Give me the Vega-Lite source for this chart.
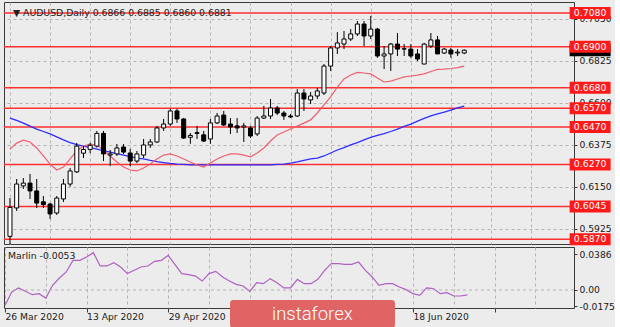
{
  "$schema": "https://vega.github.io/schema/vega-lite/v6.json",
  "background": "#ececec",
  "padding": {"left": 2, "top": 1, "right": 0, "bottom": 0},
  "spacing": 0,
  "config": {
    "view": {"stroke": "#3a3a3a", "strokeWidth": 1, "fill": "#ececec"},
    "font": "DejaVu Sans",
    "axis": {"labelFont": "DejaVu Sans", "labelFontSize": 9.2, "labelColor": "#1a1a1a", "tickColor": "#3a3a3a", "domain": false, "gridColor": "#b4b4b4", "gridDash": [3, 3], "gridWidth": 1, "title": null, "labelOverlap": false}
  },
  "datasets": {
    "k": [
      {"d":"2020-03-26","o":0.5885,"h":0.6090,"l":0.5820,"c":0.6040,"r":0.6352,"b":0.6518,"m":-0.0166},
      {"d":"2020-03-27","o":0.6037,"h":0.6192,"l":0.6021,"c":0.6165,"r":0.6384,"b":0.6505,"m":-0.0022},
      {"d":"2020-03-30","o":0.6155,"h":0.6197,"l":0.6139,"c":0.6170,"r":0.6400,"b":0.6491,"m":0.0022},
      {"d":"2020-03-31","o":0.6170,"h":0.6219,"l":0.6085,"c":0.6128,"r":0.6390,"b":0.6475,"m":-0.0014},
      {"d":"2020-04-01","o":0.6128,"h":0.6192,"l":0.6037,"c":0.6063,"r":0.6358,"b":0.6459,"m":-0.0051},
      {"d":"2020-04-02","o":0.6070,"h":0.6101,"l":0.6037,"c":0.6055,"r":0.6315,"b":0.6446,"m":-0.0040},
      {"d":"2020-04-03","o":0.6058,"h":0.6064,"l":0.5978,"c":0.6005,"r":0.6272,"b":0.6433,"m":-0.0087},
      {"d":"2020-04-06","o":0.6010,"h":0.6101,"l":0.6000,"c":0.6090,"r":0.6240,"b":0.6417,"m":0.0051},
      {"d":"2020-04-07","o":0.6085,"h":0.6192,"l":0.6069,"c":0.6165,"r":0.6256,"b":0.6401,"m":0.0130},
      {"d":"2020-04-08","o":0.6165,"h":0.6251,"l":0.6150,"c":0.6235,"r":0.6299,"b":0.6387,"m":0.0195},
      {"d":"2020-04-09","o":0.6230,"h":0.6385,"l":0.6224,"c":0.6368,"r":0.6342,"b":0.6376,"m":0.0321},
      {"d":"2020-04-10","o":0.6330,"h":0.6368,"l":0.6304,"c":0.6350,"r":0.6368,"b":0.6368,"m":0.0321},
      {"d":"2020-04-13","o":0.6350,"h":0.6385,"l":0.6330,"c":0.6372,"r":0.6379,"b":0.6360,"m":0.0357},
      {"d":"2020-04-14","o":0.6368,"h":0.6449,"l":0.6360,"c":0.6436,"r":0.6374,"b":0.6352,"m":0.0404},
      {"d":"2020-04-15","o":0.6436,"h":0.6449,"l":0.6288,"c":0.6326,"r":0.6347,"b":0.6344,"m":0.0260},
      {"d":"2020-04-16","o":0.6320,"h":0.6347,"l":0.6261,"c":0.6326,"r":0.6315,"b":0.6336,"m":0.0260},
      {"d":"2020-04-17","o":0.6326,"h":0.6379,"l":0.6315,"c":0.6358,"r":0.6283,"b":0.6328,"m":0.0296},
      {"d":"2020-04-20","o":0.6363,"h":0.6379,"l":0.6326,"c":0.6336,"r":0.6256,"b":0.6320,"m":0.0249},
      {"d":"2020-04-21","o":0.6331,"h":0.6353,"l":0.6261,"c":0.6288,"r":0.6240,"b":0.6312,"m":0.0177},
      {"d":"2020-04-22","o":0.6288,"h":0.6342,"l":0.6277,"c":0.6326,"r":0.6235,"b":0.6304,"m":0.0213},
      {"d":"2020-04-23","o":0.6320,"h":0.6406,"l":0.6304,"c":0.6374,"r":0.6251,"b":0.6299,"m":0.0249},
      {"d":"2020-04-24","o":0.6374,"h":0.6406,"l":0.6358,"c":0.6390,"r":0.6272,"b":0.6291,"m":0.0260},
      {"d":"2020-04-27","o":0.6390,"h":0.6476,"l":0.6385,"c":0.6465,"r":0.6299,"b":0.6285,"m":0.0310},
      {"d":"2020-04-28","o":0.6465,"h":0.6513,"l":0.6449,"c":0.6486,"r":0.6320,"b":0.6280,"m":0.0321},
      {"d":"2020-04-29","o":0.6486,"h":0.6567,"l":0.6476,"c":0.6556,"r":0.6326,"b":0.6275,"m":0.0375},
      {"d":"2020-04-30","o":0.6556,"h":0.6567,"l":0.6492,"c":0.6513,"r":0.6315,"b":0.6272,"m":0.0274},
      {"d":"2020-05-01","o":0.6513,"h":0.6518,"l":0.6406,"c":0.6411,"r":0.6299,"b":0.6270,"m":0.0177},
      {"d":"2020-05-04","o":0.6415,"h":0.6438,"l":0.6380,"c":0.6425,"r":0.6283,"b":0.6267,"m":0.0166},
      {"d":"2020-05-05","o":0.6440,"h":0.6476,"l":0.6406,"c":0.6436,"r":0.6267,"b":0.6267,"m":0.0151},
      {"d":"2020-05-06","o":0.6428,"h":0.6449,"l":0.6390,"c":0.6395,"r":0.6256,"b":0.6267,"m":0.0097},
      {"d":"2020-05-07","o":0.6406,"h":0.6513,"l":0.6380,"c":0.6492,"r":0.6277,"b":0.6267,"m":0.0177},
      {"d":"2020-05-08","o":0.6492,"h":0.6545,"l":0.6486,"c":0.6529,"r":0.6299,"b":0.6267,"m":0.0202},
      {"d":"2020-05-11","o":0.6534,"h":0.6556,"l":0.6476,"c":0.6481,"r":0.6315,"b":0.6267,"m":0.0141},
      {"d":"2020-05-12","o":0.6486,"h":0.6518,"l":0.6433,"c":0.6470,"r":0.6326,"b":0.6267,"m":0.0097},
      {"d":"2020-05-13","o":0.6476,"h":0.6518,"l":0.6438,"c":0.6465,"r":0.6326,"b":0.6267,"m":0.0061},
      {"d":"2020-05-14","o":0.6470,"h":0.6492,"l":0.6390,"c":0.6476,"r":0.6320,"b":0.6267,"m":0.0043},
      {"d":"2020-05-15","o":0.6465,"h":0.6476,"l":0.6411,"c":0.6422,"r":0.6310,"b":0.6267,"m":-0.0014},
      {"d":"2020-05-18","o":0.6433,"h":0.6529,"l":0.6422,"c":0.6518,"r":0.6331,"b":0.6267,"m":0.0079},
      {"d":"2020-05-19","o":0.6518,"h":0.6583,"l":0.6513,"c":0.6529,"r":0.6358,"b":0.6267,"m":0.0068},
      {"d":"2020-05-20","o":0.6529,"h":0.6620,"l":0.6513,"c":0.6572,"r":0.6395,"b":0.6267,"m":0.0123},
      {"d":"2020-05-21","o":0.6572,"h":0.6583,"l":0.6534,"c":0.6545,"r":0.6427,"b":0.6270,"m":0.0079},
      {"d":"2020-05-22","o":0.6545,"h":0.6556,"l":0.6508,"c":0.6529,"r":0.6443,"b":0.6272,"m":0.0022},
      {"d":"2020-05-25","o":0.6529,"h":0.6540,"l":0.6518,"c":0.6524,"r":0.6459,"b":0.6277,"m":0.0022},
      {"d":"2020-05-26","o":0.6529,"h":0.6673,"l":0.6524,"c":0.6652,"r":0.6475,"b":0.6283,"m":0.0115},
      {"d":"2020-05-27","o":0.6652,"h":0.6673,"l":0.6556,"c":0.6620,"r":0.6491,"b":0.6291,"m":0.0068},
      {"d":"2020-05-28","o":0.6615,"h":0.6657,"l":0.6593,"c":0.6636,"r":0.6508,"b":0.6299,"m":0.0068},
      {"d":"2020-05-29","o":0.6636,"h":0.6679,"l":0.6620,"c":0.6663,"r":0.6545,"b":0.6304,"m":0.0115},
      {"d":"2020-06-01","o":0.6652,"h":0.6807,"l":0.6641,"c":0.6796,"r":0.6588,"b":0.6315,"m":0.0213},
      {"d":"2020-06-02","o":0.6796,"h":0.6903,"l":0.6770,"c":0.6893,"r":0.6631,"b":0.6331,"m":0.0285},
      {"d":"2020-06-03","o":0.6893,"h":0.6978,"l":0.6861,"c":0.6920,"r":0.6684,"b":0.6347,"m":0.0285},
      {"d":"2020-06-04","o":0.6914,"h":0.6984,"l":0.6887,"c":0.6941,"r":0.6727,"b":0.6360,"m":0.0278},
      {"d":"2020-06-05","o":0.6941,"h":0.6994,"l":0.6930,"c":0.6968,"r":0.6748,"b":0.6374,"m":0.0278},
      {"d":"2020-06-08","o":0.6968,"h":0.7037,"l":0.6957,"c":0.7021,"r":0.6762,"b":0.6387,"m":0.0303},
      {"d":"2020-06-09","o":0.7021,"h":0.7037,"l":0.6903,"c":0.6957,"r":0.6759,"b":0.6401,"m":0.0213},
      {"d":"2020-06-10","o":0.6957,"h":0.7064,"l":0.6941,"c":0.6994,"r":0.6754,"b":0.6414,"m":0.0141},
      {"d":"2020-06-11","o":0.6994,"h":0.7000,"l":0.6840,"c":0.6850,"r":0.6732,"b":0.6425,"m":0.0051},
      {"d":"2020-06-12","o":0.6850,"h":0.6903,"l":0.6780,"c":0.6861,"r":0.6711,"b":0.6435,"m":0.0068},
      {"d":"2020-06-15","o":0.6861,"h":0.6920,"l":0.6770,"c":0.6914,"r":0.6716,"b":0.6446,"m":0.0068},
      {"d":"2020-06-16","o":0.6914,"h":0.6973,"l":0.6850,"c":0.6887,"r":0.6727,"b":0.6459,"m":0.0032},
      {"d":"2020-06-17","o":0.6887,"h":0.6914,"l":0.6850,"c":0.6889,"r":0.6738,"b":0.6473,"m":0.0004},
      {"d":"2020-06-18","o":0.6887,"h":0.6914,"l":0.6840,"c":0.6850,"r":0.6743,"b":0.6486,"m":-0.0040},
      {"d":"2020-06-19","o":0.6861,"h":0.6887,"l":0.6823,"c":0.6834,"r":0.6748,"b":0.6502,"m":-0.0058},
      {"d":"2020-06-22","o":0.6807,"h":0.6920,"l":0.6807,"c":0.6914,"r":0.6754,"b":0.6516,"m":0.0022},
      {"d":"2020-06-23","o":0.6903,"h":0.6973,"l":0.6893,"c":0.6936,"r":0.6767,"b":0.6529,"m":0.0015},
      {"d":"2020-06-24","o":0.6936,"h":0.6957,"l":0.6861,"c":0.6861,"r":0.6778,"b":0.6540,"m":-0.0040},
      {"d":"2020-06-25","o":0.6866,"h":0.6893,"l":0.6861,"c":0.6887,"r":0.6780,"b":0.6550,"m":-0.0029},
      {"d":"2020-06-26","o":0.6882,"h":0.6893,"l":0.6840,"c":0.6861,"r":0.6783,"b":0.6561,"m":-0.0065},
      {"d":"2020-06-29","o":0.6866,"h":0.6887,"l":0.6850,"c":0.6871,"r":0.6788,"b":0.6572,"m":-0.0065},
      {"d":"2020-06-30","o":0.6866,"h":0.6885,"l":0.6860,"c":0.6881,"r":0.6796,"b":0.6582,"m":-0.0053}
    ],
    "lv": [
      {"v":0.7080},{"v":0.6900},{"v":0.6680},{"v":0.6570},{"v":0.6470},{"v":0.6270},{"v":0.6045},{"v":0.5870}
    ]
  },
  "vconcat": [
    {
      "width": 570,
      "height": 242,
      "layer": [
        {
          "data": {"name": "lv"},
          "mark": {"type": "rule", "color": "#ff3030", "strokeWidth": 1.5},
          "encoding": {
            "y": {"field": "v", "type": "quantitative", "scale": {"domain": [0.58441, 0.71389], "nice": false, "zero": false},
                  "axis": {"orient": "right", "values": [0.5925, 0.615, 0.6375, 0.66, 0.6825, 0.705], "tickCount": 12, "format": ".4f", "grid": true, "tickSize": 3, "labelPadding": 2}}
          }
        },
        {
          "data": {"name": "k"},
          "transform": [{"window": [{"op": "row_number", "as": "n"}], "sort": [{"field": "d"}]}],
          "layer": [
            {
              "mark": {"type": "line", "color": "#2d2dff", "strokeWidth": 1.3, "clip": true},
              "encoding": {
                "x": {"field": "n", "type": "quantitative", "scale": {"domain": [0.853, 84.677], "nice": false, "zero": false},
                      "axis": {"values": [1,7,13,19,25,31,37,43,49,55,61,67,73,79], "tickCount": 20, "labels": false, "ticks": false, "domain": false, "grid": true}},
                "y": {"field": "b", "type": "quantitative"}
              }
            },
            {
              "mark": {"type": "line", "color": "#ee5f70", "strokeWidth": 1.2, "clip": true},
              "encoding": {"x": {"field": "n", "type": "quantitative"}, "y": {"field": "r", "type": "quantitative"}}
            },
            {
              "mark": {"type": "rule", "color": "#000000", "strokeWidth": 1, "clip": true},
              "encoding": {"x": {"field": "n", "type": "quantitative"}, "y": {"field": "l", "type": "quantitative"}, "y2": {"field": "h"}}
            },
            {
              "mark": {"type": "bar", "orient": "vertical", "size": 4, "stroke": "#000000", "strokeWidth": 1, "clip": true},
              "encoding": {
                "x": {"field": "n", "type": "quantitative"},
                "y": {"field": "o", "type": "quantitative"},
                "y2": {"field": "c"},
                "fill": {"condition": {"test": "datum.c >= datum.o", "value": "#ffffff"}, "value": "#000000"}
              }
            }
          ]
        },
        {
          "data": {"values": [{"t": "▼ AUDUSD,Daily  0.6866 0.6885 0.6860 0.6881"}]},
          "mark": {"type": "text", "align": "left", "baseline": "middle", "fontSize": 9.3, "color": "#222222", "font": "DejaVu Sans"},
          "encoding": {"x": {"datum": 1.441, "type": "quantitative"}, "y": {"datum": 0.7080, "type": "quantitative"}, "text": {"field": "t"}}
        },
        {
          "data": {"values": [{"v": 0.6881}]},
          "mark": {"type": "tick", "orient": "horizontal", "size": 41, "thickness": 12, "color": "#000000", "opacity": 1, "clip": false},
          "encoding": {"x": {"datum": 87.84, "type": "quantitative"}, "y": {"field": "v", "type": "quantitative"}}
        },
        {
          "data": {"name": "lv"},
          "mark": {"type": "tick", "orient": "horizontal", "size": 41, "thickness": 12, "color": "#ff1a1a", "opacity": 1, "clip": false},
          "encoding": {"x": {"datum": 87.84, "type": "quantitative"}, "y": {"field": "v", "type": "quantitative"}}
        },
        {
          "data": {"name": "lv"},
          "mark": {"type": "text", "align": "center", "baseline": "middle", "fontSize": 9.4, "color": "#ffffff", "font": "DejaVu Sans", "clip": false},
          "encoding": {"x": {"datum": 87.84, "type": "quantitative"}, "y": {"field": "v", "type": "quantitative"}, "text": {"field": "v", "type": "quantitative", "format": ".4f"}}
        }
      ]
    },
    {
      "width": 570,
      "height": 61,
      "layer": [
        {
          "data": {"name": "k"},
          "transform": [{"window": [{"op": "row_number", "as": "n"}], "sort": [{"field": "d"}]}],
          "mark": {"type": "line", "color": "#b060c4", "strokeWidth": 1.2, "clip": true},
          "encoding": {
            "x": {"field": "n", "type": "quantitative", "scale": {"domain": [0.853, 84.677], "nice": false, "zero": false},
                  "axis": {"values": [1,7,13,19,25,31,37,43,49,55,61,67,73,79], "tickCount": 20, "grid": true, "domain": false, "tickSize": 4, "labelAlign": "left", "labelFlush": false, "labelPadding": 0, "labelFontSize": 9.2,
                           "tickOpacity": {"condition": {"test": "(datum.value - 1) % 12 == 0", "value": 1}, "value": 0},
                           "labelExpr": "{'1':'26 Mar 2020','13':'13 Apr 2020','25':'29 Apr 2020','61':'18 Jun 2020'}['' + datum.value] || ''"}},
            "y": {"field": "m", "type": "quantitative", "scale": {"domain": [-0.01948, 0.04653], "nice": false, "zero": false},
                  "axis": {"orient": "right", "values": [-0.0175, 0, 0.0386], "tickCount": 10, "tickSize": 3, "labelPadding": 2, "grid": false,
                           "labelExpr": "datum.value == 0 ? '0.00' : replace(format(datum.value, '.4f'), '\u2212', '-')"}}
          }
        },
        {
          "data": {"values": [{"v": 0}]},
          "mark": {"type": "rule", "color": "#b4b4b4", "strokeWidth": 1, "strokeDash": [3, 3]},
          "encoding": {"y": {"field": "v", "type": "quantitative"}}
        },
        {
          "data": {"values": [{"t": "Marlin -0.0053"}]},
          "mark": {"type": "text", "align": "left", "baseline": "middle", "fontSize": 9.3, "color": "#222222", "font": "DejaVu Sans"},
          "encoding": {"x": {"datum": 1.441, "type": "quantitative"}, "y": {"datum": 0.0372, "type": "quantitative"}, "text": {"field": "t"}}
        },
        {
          "data": {"values": [{"t": "instaforex"}]},
          "mark": {"type": "rect", "color": "#e06464", "cornerRadius": 3, "clip": false},
          "encoding": {"x": {"datum": 34.09, "type": "quantitative"}, "x2": {"datum": 58.35}, "y": {"datum": -0.0108, "type": "quantitative"}, "y2": {"datum": -0.0411}}
        },
        {
          "data": {"values": [{"t": "instaforex"}]},
          "mark": {"type": "text", "align": "center", "baseline": "middle", "fontSize": 18.5, "fontWeight": 300, "color": "#ffffff", "font": "Roboto", "clip": false},
          "encoding": {"x": {"datum": 46.2, "type": "quantitative"}, "y": {"datum": -0.026, "type": "quantitative"}, "text": {"field": "t"}}
        }
      ]
    }
  ]
}
